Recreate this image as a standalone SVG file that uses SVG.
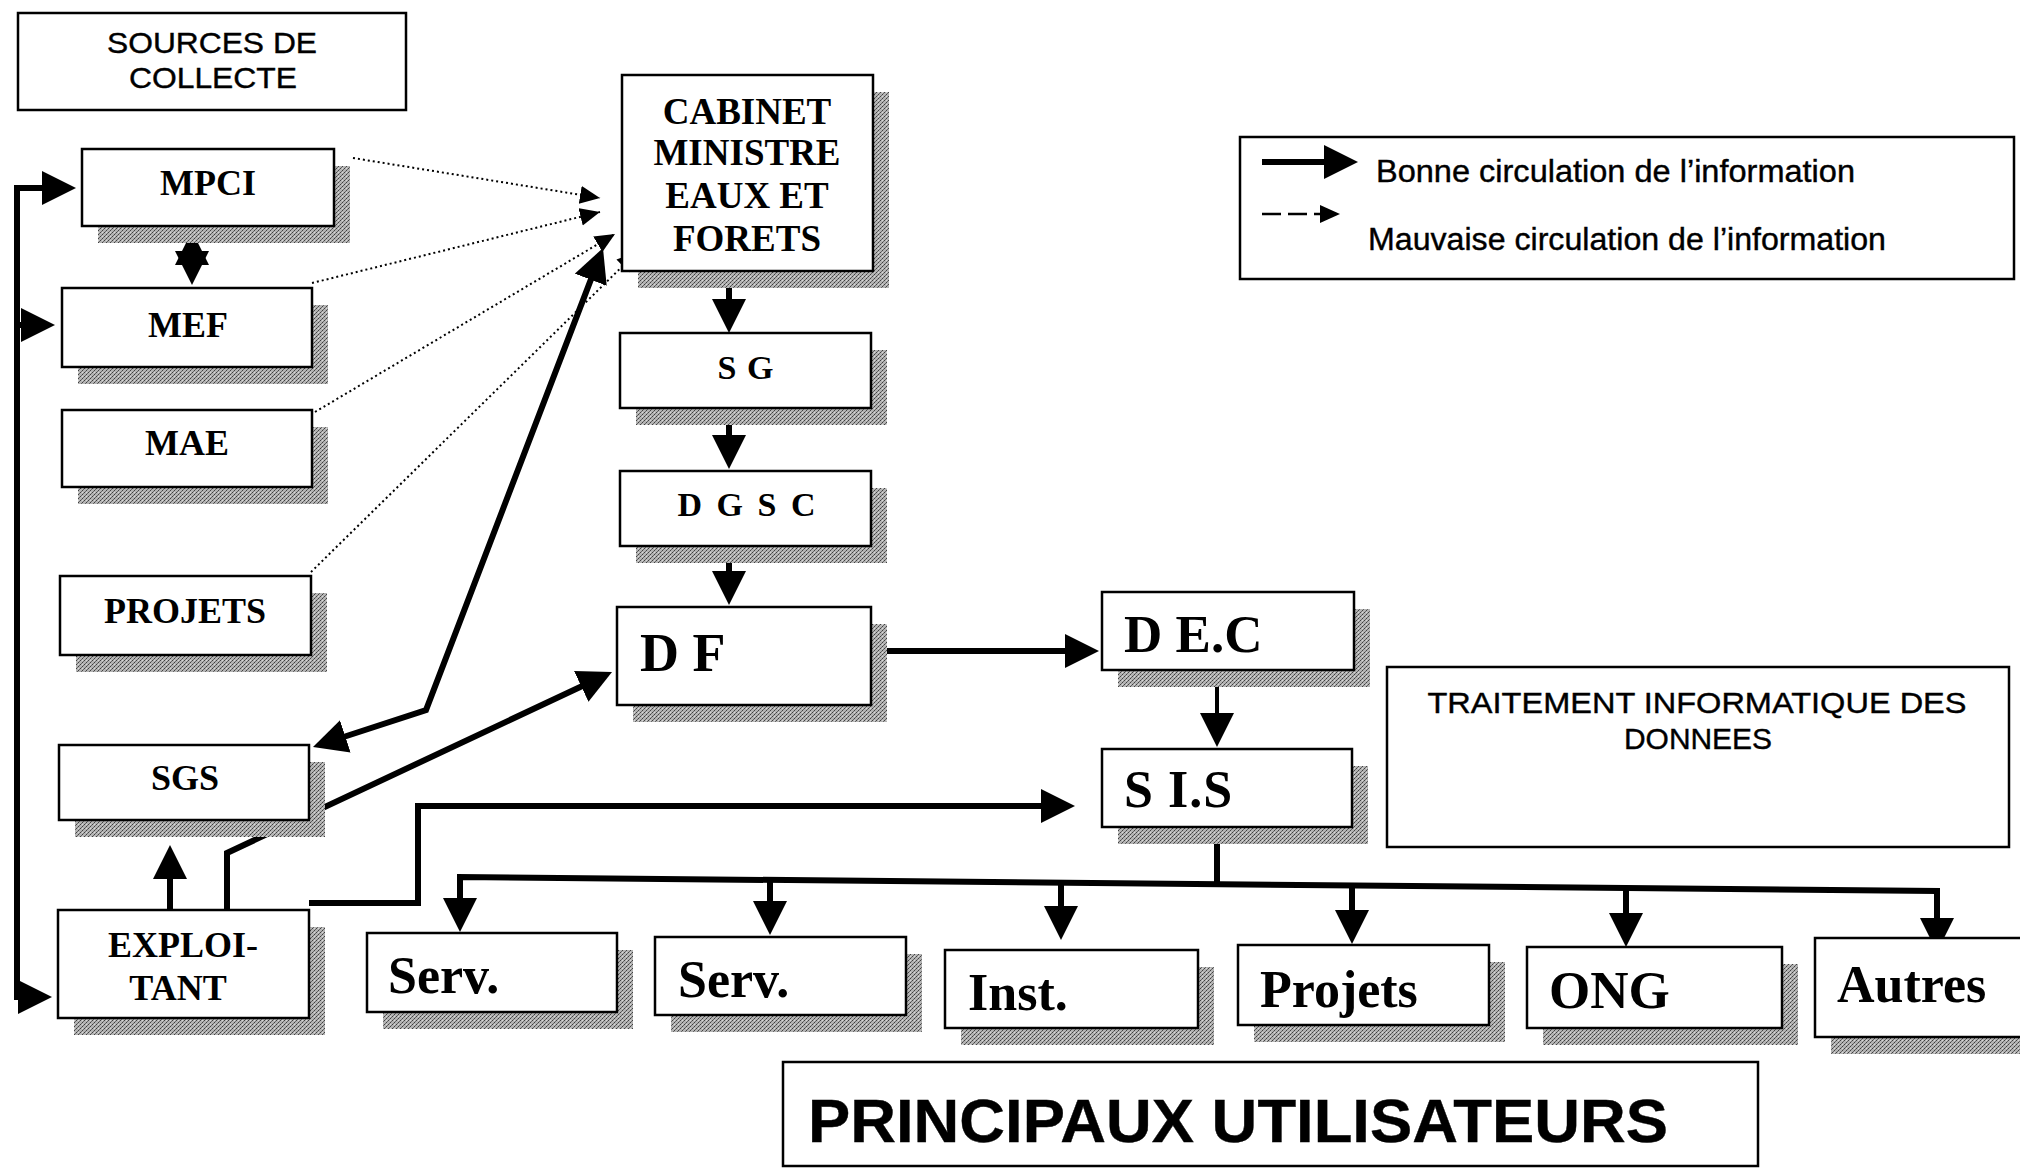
<svg xmlns="http://www.w3.org/2000/svg" width="2020" height="1169" viewBox="0 0 2020 1169">
  <defs>
    <!-- halftone grey used for the drop shadows -->
    <pattern id="tone" width="4" height="4" patternUnits="userSpaceOnUse">
      <rect width="4" height="4" fill="#b4b4b4"/>
      <rect x="0" y="0" width="1" height="1" fill="#404040"/>
      <rect x="2" y="2" width="1" height="1" fill="#404040"/>
      <rect x="1" y="3" width="1" height="1" fill="#686868"/>
      <rect x="3" y="1" width="1" height="1" fill="#686868"/>
      <rect x="2" y="0" width="1" height="1" fill="#d8d8d8"/>
    </pattern>
    <!-- large solid head: tip sits 24px beyond the line end -->
    <marker id="ah" markerUnits="userSpaceOnUse" markerWidth="36" markerHeight="36" refX="10" refY="17" orient="auto-start-reverse">
      <path d="M0,0 L34,17 L0,34 z" fill="#000"/>
    </marker>
    <!-- small head for the dotted links -->
    <marker id="as" markerUnits="userSpaceOnUse" markerWidth="22" markerHeight="20" refX="20" refY="9" orient="auto">
      <path d="M0,0 L20,9 L0,18 z" fill="#000"/>
    </marker>
    <style>
      .box { fill: #fff; stroke: #000; stroke-width: 2.5; }
      .sh { fill: url(#tone); }
      .lbl { font-family: "Liberation Serif", "Times New Roman", serif; font-weight: bold; fill: #000; }
      .mid { text-anchor: middle; }
      .sans { font-family: "Liberation Sans", Arial, sans-serif; fill: #000; stroke: #000; stroke-width: 0.4; }
      .thick { fill: none; stroke: #000; stroke-width: 6; }
      .thin { fill: none; stroke: #000; stroke-width: 4; }
      .dot { fill: none; stroke: #000; stroke-width: 2; stroke-dasharray: 2 3; }
      .dash { fill: none; stroke: #000; stroke-width: 2.5; stroke-dasharray: 19 7; }
    </style>
  </defs>

  <!-- headings and legend -->
  <g id="sources">
    <rect class="box" x="18" y="13" width="388" height="97"/>
    <text class="sans mid" x="212" y="53" font-size="30" textLength="210" lengthAdjust="spacingAndGlyphs">SOURCES DE</text>
    <text class="sans mid" x="213" y="88" font-size="30" textLength="168" lengthAdjust="spacingAndGlyphs">COLLECTE</text>
  </g>

  <g id="legend">
    <rect class="box" x="1240" y="137" width="774" height="142"/>
    <path class="thick" d="M1262,162 H1334" marker-end="url(#ah)"/>
    <text class="sans" x="1376" y="182" font-size="31" textLength="479" lengthAdjust="spacingAndGlyphs">Bonne circulation de l’information</text>
    <path class="dash" d="M1262,214 H1340" marker-end="url(#as)"/>
    <text class="sans" x="1368" y="250" font-size="31" textLength="518" lengthAdjust="spacingAndGlyphs">Mauvaise circulation de l’information</text>
  </g>

  <g id="traitement">
    <rect class="box" x="1387" y="667" width="622" height="180"/>
    <text class="sans mid" x="1697" y="713" font-size="30" textLength="539" lengthAdjust="spacingAndGlyphs">TRAITEMENT INFORMATIQUE DES</text>
    <text class="sans mid" x="1698" y="749" font-size="30" textLength="148" lengthAdjust="spacingAndGlyphs">DONNEES</text>
  </g>

  <g id="principaux">
    <rect class="box" x="783" y="1062" width="975" height="104"/>
    <text class="sans" x="808" y="1142" font-size="62" font-weight="bold" stroke-width="1.6" textLength="860" lengthAdjust="spacingAndGlyphs">PRINCIPAUX UTILISATEURS</text>
  </g>

  <!-- connectors -->
  <g id="connectors">
    <!-- dotted links to the cabinet -->
    <path class="dot" d="M353,158 L600,198" marker-end="url(#as)"/>
    <path class="dot" d="M312,283 L600,212" marker-end="url(#as)"/>
    <path class="dot" d="M315,412 L615,234" marker-end="url(#as)"/>
    <path class="dot" d="M311,572 L637,252" marker-end="url(#as)"/>

    <!-- left return line -->
    <path class="thick" d="M52,188 H17 V997 H28" marker-start="url(#ah)" marker-end="url(#ah)"/>
    <path class="thick" d="M17,325 H31" marker-end="url(#ah)"/>
    <!-- MPCI / MEF -->
    <path class="thick" d="M192,255 V261" marker-start="url(#ah)" marker-end="url(#ah)"/>

    <!-- SGS <-> cabinet -->
    <path class="thick" d="M335.8,739.5 L426,710 L594.4,270.4" marker-start="url(#ah)" marker-end="url(#ah)"/>
    <!-- exploitant -> SGS -->
    <path class="thick" d="M170,912 V869" marker-end="url(#ah)"/>
    <!-- exploitant -> DF -->
    <path class="thick" d="M227,912 V853 L590.3,682.2" marker-end="url(#ah)"/>
    <!-- exploitant -> SIS -->
    <path class="thick" d="M309,903 H418 V806 H1051" marker-end="url(#ah)"/>

    <!-- main chain -->
    <path class="thick" d="M729,272 V309" marker-end="url(#ah)"/>
    <path class="thick" d="M729,408 V445" marker-end="url(#ah)"/>
    <path class="thick" d="M729,546 V581" marker-end="url(#ah)"/>
    <path class="thick" d="M871,651 H1075" marker-end="url(#ah)"/>
    <path class="thin" d="M1217,670 V723" marker-end="url(#ah)"/>

    <!-- distribution to users -->
    <path class="thick" d="M1217,827 V884"/>
    <path class="thick" d="M460,908 V877 L1937,891 V928" marker-start="url(#ah)" marker-end="url(#ah)"/>
    <path class="thick" d="M770,880 V911" marker-end="url(#ah)"/>
    <path class="thick" d="M1061,883 V916" marker-end="url(#ah)"/>
    <path class="thick" d="M1352,885 V920" marker-end="url(#ah)"/>
    <path class="thick" d="M1626,888 V923" marker-end="url(#ah)"/>
  </g>

  <!-- source nodes -->
  <g id="mpci">
    <rect class="sh" x="98" y="166" width="252" height="77"/>
    <rect class="box" x="82" y="149" width="252" height="77"/>
    <text class="lbl mid" x="208" y="195" font-size="36">MPCI</text>
  </g>
  <g id="mef">
    <rect class="sh" x="78" y="305" width="250" height="79"/>
    <rect class="box" x="62" y="288" width="250" height="79"/>
    <text class="lbl mid" x="188" y="337" font-size="36">MEF</text>
  </g>
  <g id="mae">
    <rect class="sh" x="78" y="427" width="250" height="77"/>
    <rect class="box" x="62" y="410" width="250" height="77"/>
    <text class="lbl mid" x="187" y="455" font-size="36">MAE</text>
  </g>
  <g id="projets-src">
    <rect class="sh" x="76" y="593" width="251" height="79"/>
    <rect class="box" x="60" y="576" width="251" height="79"/>
    <text class="lbl mid" x="185" y="623" font-size="36">PROJETS</text>
  </g>
  <g id="sgs">
    <rect class="sh" x="75" y="762" width="250" height="75"/>
    <rect class="box" x="59" y="745" width="250" height="75"/>
    <text class="lbl mid" x="185" y="790" font-size="36">SGS</text>
  </g>
  <g id="exploitant">
    <rect class="sh" x="74" y="927" width="251" height="108"/>
    <rect class="box" x="58" y="910" width="251" height="108"/>
    <text class="lbl mid" x="183" y="957" font-size="36">EXPLOI-</text>
    <text class="lbl mid" x="178" y="1000" font-size="36">TANT</text>
  </g>

  <!-- administration chain -->
  <g id="cabinet">
    <rect class="sh" x="638" y="92" width="251" height="196"/>
    <rect class="box" x="622" y="75" width="251" height="196"/>
    <text class="lbl mid" x="747" y="124" font-size="37">CABINET</text>
    <text class="lbl mid" x="747" y="165" font-size="37">MINISTRE</text>
    <text class="lbl mid" x="747" y="208" font-size="37">EAUX ET</text>
    <text class="lbl mid" x="747" y="251" font-size="37">FORETS</text>
  </g>
  <g id="sg">
    <rect class="sh" x="636" y="350" width="251" height="75"/>
    <rect class="box" x="620" y="333" width="251" height="75"/>
    <text class="lbl mid" x="746" y="379" font-size="34" letter-spacing="1">S G</text>
  </g>
  <g id="dgsc">
    <rect class="sh" x="636" y="488" width="251" height="75"/>
    <rect class="box" x="620" y="471" width="251" height="75"/>
    <text class="lbl mid" x="748" y="516" font-size="34" letter-spacing="3">D G S C</text>
  </g>
  <g id="df">
    <rect class="sh" x="633" y="624" width="254" height="98"/>
    <rect class="box" x="617" y="607" width="254" height="98"/>
    <text class="lbl" x="640" y="671" font-size="54">D F</text>
  </g>
  <g id="dec">
    <rect class="sh" x="1118" y="609" width="252" height="78"/>
    <rect class="box" x="1102" y="592" width="252" height="78"/>
    <text class="lbl" x="1124" y="652" font-size="53">D E.C</text>
  </g>
  <g id="sis">
    <rect class="sh" x="1118" y="766" width="250" height="78"/>
    <rect class="box" x="1102" y="749" width="250" height="78"/>
    <text class="lbl" x="1124" y="807" font-size="52" letter-spacing="1">S I.S</text>
  </g>

  <!-- users -->
  <g id="serv1">
    <rect class="sh" x="383" y="950" width="250" height="79"/>
    <rect class="box" x="367" y="933" width="250" height="79"/>
    <text class="lbl" x="388" y="993" font-size="52">Serv.</text>
  </g>
  <g id="serv2">
    <rect class="sh" x="671" y="954" width="251" height="78"/>
    <rect class="box" x="655" y="937" width="251" height="78"/>
    <text class="lbl" x="678" y="997" font-size="52">Serv.</text>
  </g>
  <g id="inst">
    <rect class="sh" x="961" y="967" width="253" height="78"/>
    <rect class="box" x="945" y="950" width="253" height="78"/>
    <text class="lbl" x="968" y="1010" font-size="52">Inst.</text>
  </g>
  <g id="projets">
    <rect class="sh" x="1254" y="962" width="251" height="80"/>
    <rect class="box" x="1238" y="945" width="251" height="80"/>
    <text class="lbl" x="1260" y="1007" font-size="52">Projets</text>
  </g>
  <g id="ong">
    <rect class="sh" x="1543" y="964" width="255" height="81"/>
    <rect class="box" x="1527" y="947" width="255" height="81"/>
    <text class="lbl" x="1549" y="1008" font-size="53">ONG</text>
  </g>
  <g id="autres">
    <rect class="sh" x="1831" y="955" width="220" height="99"/>
    <rect class="box" x="1815" y="938" width="220" height="99"/>
    <text class="lbl" x="1837" y="1002" font-size="52">Autres</text>
  </g>
</svg>
